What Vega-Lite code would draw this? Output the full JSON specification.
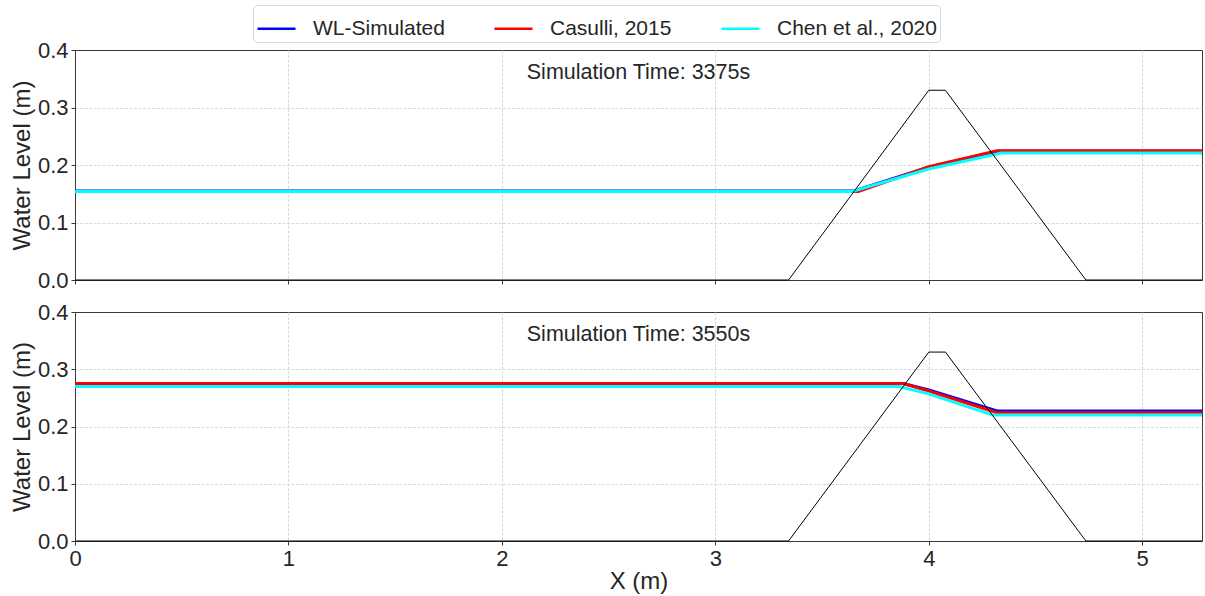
{
  "$schema": "https://vega.github.io/schema/vega-lite/v6.json",
  "padding": {"left": 9, "top": 4, "right": 3, "bottom": 4},
  "background": "white",
  "datasets": {
    "water": [
      {"panel": "A", "series": "WL-Simulated", "x": 0, "y": 0.155},
      {"panel": "A", "series": "WL-Simulated", "x": 3.65, "y": 0.155},
      {"panel": "A", "series": "WL-Simulated", "x": 4.0, "y": 0.196},
      {"panel": "A", "series": "WL-Simulated", "x": 4.32, "y": 0.224},
      {"panel": "A", "series": "WL-Simulated", "x": 5.28, "y": 0.224},
      {"panel": "A", "series": "Casulli, 2015", "x": 0, "y": 0.154},
      {"panel": "A", "series": "Casulli, 2015", "x": 3.67, "y": 0.154},
      {"panel": "A", "series": "Casulli, 2015", "x": 4.0, "y": 0.197},
      {"panel": "A", "series": "Casulli, 2015", "x": 4.32, "y": 0.225},
      {"panel": "A", "series": "Casulli, 2015", "x": 5.28, "y": 0.225},
      {"panel": "A", "series": "Chen et al., 2020", "x": 0, "y": 0.154},
      {"panel": "A", "series": "Chen et al., 2020", "x": 3.64, "y": 0.154},
      {"panel": "A", "series": "Chen et al., 2020", "x": 4.0, "y": 0.193},
      {"panel": "A", "series": "Chen et al., 2020", "x": 4.34, "y": 0.221},
      {"panel": "A", "series": "Chen et al., 2020", "x": 5.28, "y": 0.221},
      {"panel": "B", "series": "WL-Simulated", "x": 0, "y": 0.275},
      {"panel": "B", "series": "WL-Simulated", "x": 3.88, "y": 0.275},
      {"panel": "B", "series": "WL-Simulated", "x": 4.0, "y": 0.264},
      {"panel": "B", "series": "WL-Simulated", "x": 4.32, "y": 0.227},
      {"panel": "B", "series": "WL-Simulated", "x": 5.28, "y": 0.227},
      {"panel": "B", "series": "Casulli, 2015", "x": 0, "y": 0.275},
      {"panel": "B", "series": "Casulli, 2015", "x": 3.88, "y": 0.275},
      {"panel": "B", "series": "Casulli, 2015", "x": 4.0, "y": 0.262},
      {"panel": "B", "series": "Casulli, 2015", "x": 4.32, "y": 0.224},
      {"panel": "B", "series": "Casulli, 2015", "x": 5.28, "y": 0.224},
      {"panel": "B", "series": "Chen et al., 2020", "x": 0, "y": 0.270},
      {"panel": "B", "series": "Chen et al., 2020", "x": 3.86, "y": 0.270},
      {"panel": "B", "series": "Chen et al., 2020", "x": 4.0, "y": 0.257},
      {"panel": "B", "series": "Chen et al., 2020", "x": 4.30, "y": 0.220},
      {"panel": "B", "series": "Chen et al., 2020", "x": 5.28, "y": 0.220}
    ],
    "bed": [
      {"x": 0, "y": 0},
      {"x": 3.343, "y": 0},
      {"x": 4.0, "y": 0.33},
      {"x": 4.078, "y": 0.33},
      {"x": 4.736, "y": 0},
      {"x": 5.28, "y": 0}
    ]
  },
  "config": {
    "font": "Liberation Sans",
    "view": {"stroke": "#3a3a3a", "strokeWidth": 1},
    "axis": {
      "labelFont": "Liberation Sans",
      "labelFontSize": 22,
      "labelColor": "#262626",
      "titleFont": "Liberation Sans",
      "titleFontSize": 24,
      "titleFontWeight": "normal",
      "titleColor": "#262626",
      "gridColor": "#d9d9d9",
      "gridDash": [3, 1.5],
      "gridWidth": 1,
      "tickColor": "#3a3a3a",
      "tickSize": 4,
      "domainColor": "#3a3a3a",
      "labelPadding": 3,
      "labelFlush": false,
      "labelOverlap": false
    },
    "legend": {
      "orient": "none",
      "legendX": 178,
      "legendY": -45,
      "direction": "horizontal",
      "symbolType": "stroke",
      "symbolSize": 1444,
      "symbolStrokeWidth": 2.5,
      "labelFont": "Liberation Sans",
      "labelFontSize": 21,
      "labelColor": "#262626",
      "labelOffset": 16,
      "columnPadding": 44,
      "padding": 3,
      "fillColor": "white",
      "strokeColor": "#d9d9d9",
      "cornerRadius": 4
    }
  },
  "spacing": 8,
  "vconcat": [
    {
      "width": 1127,
      "height": 230,
      "layer": [
        {
          "data": {"name": "water"},
          "transform": [{"filter": "datum.panel === 'A'"}],
          "mark": {"type": "line", "strokeWidth": 3},
          "encoding": {
            "x": {"field": "x", "type": "quantitative", "scale": {"domain": [0, 5.28], "nice": false}, "axis": {"values": [0, 1, 2, 3, 4, 5], "labels": false, "title": null, "grid": true, "gridOpacity": {"condition": {"test": "datum.value === 0", "value": 0}, "value": 1}}},
            "y": {"field": "y", "type": "quantitative", "scale": {"domain": [0, 0.4], "nice": false}, "axis": {"values": [0, 0.1, 0.2, 0.3, 0.4], "format": ".1f", "title": "Water Level (m)", "titlePadding": 3, "grid": true, "gridOpacity": {"condition": {"test": "datum.value === 0 || datum.value === 0.4", "value": 0}, "value": 1}}},
            "color": {"field": "series", "type": "nominal", "scale": {"domain": ["WL-Simulated", "Casulli, 2015", "Chen et al., 2020"], "range": ["#0000ff", "#ff0000", "#00ffff"]}, "legend": {"title": null}}
          }
        },
        {
          "data": {"name": "bed"},
          "mark": {"type": "line", "color": "#000000", "strokeWidth": 1},
          "encoding": {
            "x": {"field": "x", "type": "quantitative"},
            "y": {"field": "y", "type": "quantitative"}
          }
        },
        {
          "data": {"values": [{"label": "Simulation Time: 3375s"}]},
          "mark": {"type": "text", "fontSize": 21.5, "font": "Liberation Sans", "color": "#262626", "baseline": "middle", "align": "center"},
          "encoding": {
            "text": {"field": "label"},
            "x": {"datum": 2.64},
            "y": {"datum": 0.36}
          }
        }
      ]
    },
    {
      "width": 1127,
      "height": 229,
      "layer": [
        {
          "data": {"name": "water"},
          "transform": [{"filter": "datum.panel === 'B'"}],
          "mark": {"type": "line", "strokeWidth": 3},
          "encoding": {
            "x": {"field": "x", "type": "quantitative", "scale": {"domain": [0, 5.28], "nice": false}, "axis": {"values": [0, 1, 2, 3, 4, 5], "format": "d", "title": "X (m)", "titlePadding": 0, "grid": true, "gridOpacity": {"condition": {"test": "datum.value === 0", "value": 0}, "value": 1}}},
            "y": {"field": "y", "type": "quantitative", "scale": {"domain": [0, 0.4], "nice": false}, "axis": {"values": [0, 0.1, 0.2, 0.3, 0.4], "format": ".1f", "title": "Water Level (m)", "titlePadding": 3, "grid": true, "gridOpacity": {"condition": {"test": "datum.value === 0 || datum.value === 0.4", "value": 0}, "value": 1}}},
            "color": {"field": "series", "type": "nominal", "scale": {"domain": ["WL-Simulated", "Casulli, 2015", "Chen et al., 2020"], "range": ["#0000ff", "#ff0000", "#00ffff"]}, "legend": {"title": null}}
          }
        },
        {
          "data": {"name": "bed"},
          "mark": {"type": "line", "color": "#000000", "strokeWidth": 1},
          "encoding": {
            "x": {"field": "x", "type": "quantitative"},
            "y": {"field": "y", "type": "quantitative"}
          }
        },
        {
          "data": {"values": [{"label": "Simulation Time: 3550s"}]},
          "mark": {"type": "text", "fontSize": 21.5, "font": "Liberation Sans", "color": "#262626", "baseline": "middle", "align": "center"},
          "encoding": {
            "text": {"field": "label"},
            "x": {"datum": 2.64},
            "y": {"datum": 0.36}
          }
        }
      ]
    }
  ]
}
